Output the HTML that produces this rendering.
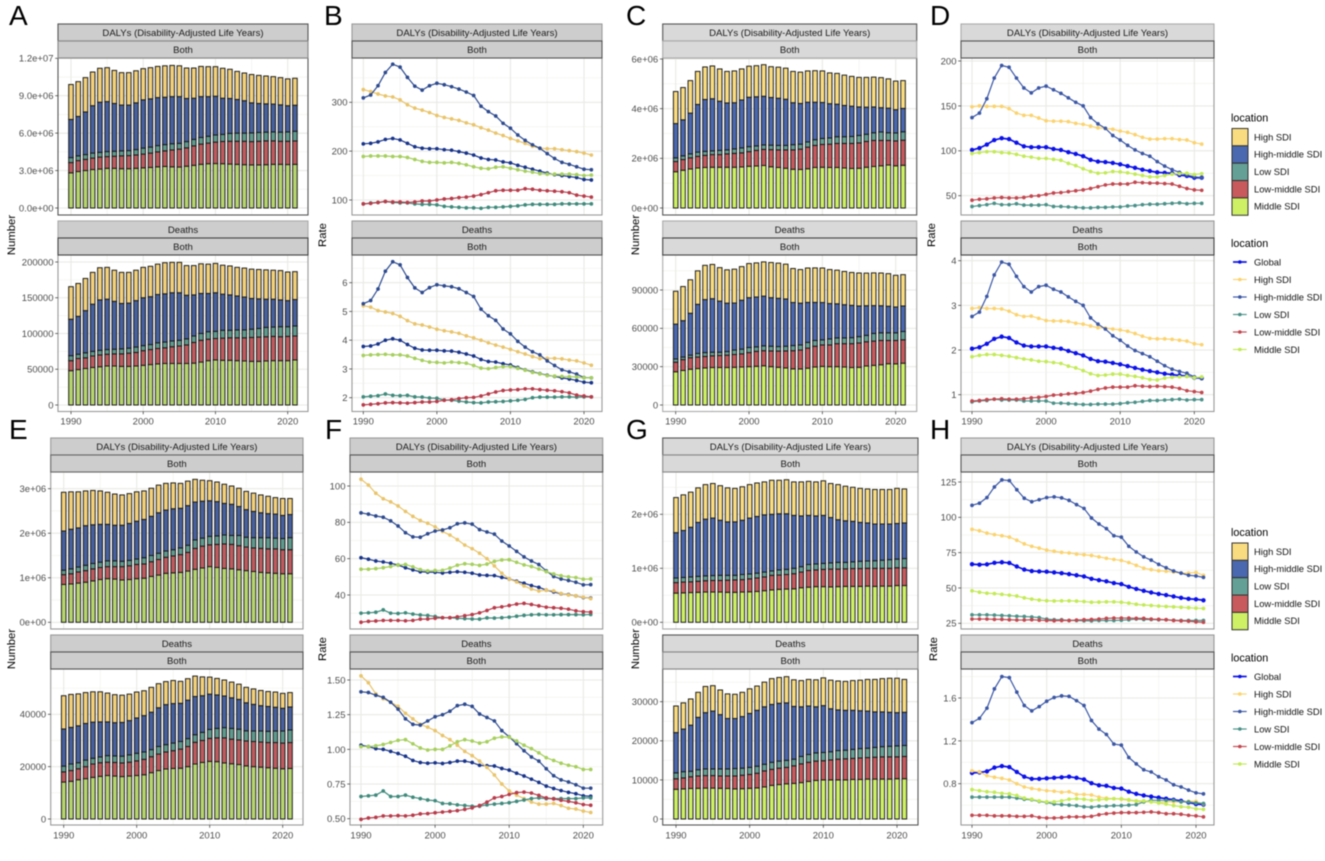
<!DOCTYPE html>
<html lang="en">
<head>
<meta charset="utf-8">
<title>Burden of disease by SDI region, 1990-2021</title>
<style>
html,body{margin:0;padding:0;background:#fff;}
#figure{display:block;width:1325px;height:861px;font-family:"Liberation Sans",sans-serif;filter:blur(0.45px);}
</style>
</head>
<body>
<svg id="figure" xmlns="http://www.w3.org/2000/svg" width="1325" height="861" viewBox="0 0 1325 861"></svg>
<script>
const years=[1990,1991,1992,1993,1994,1995,1996,1997,1998,1999,2000,2001,2002,2003,2004,2005,2006,2007,2008,2009,2010,2011,2012,2013,2014,2015,2016,2017,2018,2019,2020,2021];
const xTickYears=[1990,2000,2010,2020];
const barLocations=['High SDI','High-middle SDI','Low SDI','Low-middle SDI','Middle SDI'];
const lineLocations=['Global','High SDI','High-middle SDI','Low SDI','Low-middle SDI','Middle SDI'];

/* Panel A: stacked tops. DALYs in millions, deaths in thousands. */
const A_D_ticks=[0,3,6,9,12];
const A_D_labels=['0.0e+00','3.0e+06','6.0e+06','9.0e+06','1.2e+07'];
const A_D_mid=[2.82,2.92,3.0,3.08,3.12,3.18,3.18,3.15,3.15,3.18,3.22,3.25,3.3,3.33,3.3,3.28,3.35,3.42,3.5,3.55,3.56,3.55,3.52,3.5,3.47,3.45,3.45,3.47,3.5,3.5,3.48,3.5];
const A_D_lm=[3.64,3.8,3.9,4.0,4.08,4.12,4.15,4.18,4.2,4.25,4.32,4.4,4.5,4.58,4.65,4.72,4.82,4.98,5.12,5.2,5.28,5.33,5.35,5.35,5.35,5.32,5.35,5.38,5.38,5.35,5.35,5.37];
const A_D_low=[4.04,4.18,4.28,4.4,4.46,4.52,4.55,4.58,4.6,4.68,4.8,4.88,5.0,5.08,5.15,5.18,5.32,5.5,5.65,5.75,5.85,5.9,5.98,6.0,6.0,6.02,6.05,6.08,6.1,6.08,6.1,6.15];
const A_D_hm=[7.1,7.34,7.7,8.2,8.48,8.53,8.38,8.25,8.25,8.43,8.67,8.75,8.85,8.88,8.93,8.93,8.78,8.8,8.93,8.93,8.96,8.8,8.78,8.7,8.6,8.43,8.38,8.35,8.33,8.27,8.2,8.24];
const A_D_high=[9.9,10.13,10.45,10.9,11.2,11.25,11.03,10.85,10.85,11.0,11.17,11.25,11.35,11.4,11.43,11.4,11.22,11.22,11.35,11.33,11.33,11.2,11.12,10.95,10.82,10.7,10.63,10.58,10.53,10.45,10.35,10.4];
const A_L_ticks=[0,50,100,150,200];
const A_L_labels=['0','50000','100000','150000','200000'];
const A_L_mid=[48,49.5,51,52.5,53.5,54.5,54.5,54,54,54.5,55.5,56.5,57.5,58,58,58,58,58.5,60,62,63,62.5,62.5,62,61.5,61,61,61.5,62,62,62,63];
const A_L_lm=[62,65,66,68.5,70,71,71.5,71.5,72.5,73.5,76,77.5,79,80,81.5,82.5,84,87.5,90.5,92,93,93.5,94,94,94,94.5,95,95.5,96,95.5,96,96.5];
const A_L_low=[69,71,73,75,76.5,77.5,78,78.5,79.5,81,83,84.5,87,88,89.5,90.5,92.5,96.5,100,102.5,103,104.5,104.5,105,105,106,107,108.5,109,109.5,109.5,110.5];
const A_L_hm=[120,124,132,141,147,148,145,142,142.5,146,150,151.5,154.5,155.5,157,157,153.5,154,156,156,157,155,154,152.5,151,149,148.5,148,148,147,146,147.5];
const A_L_high=[165.5,170,177,185.5,192,192.5,188.5,185.5,185.5,188.5,192.5,194,197,199,199.5,199.5,195,195,197.5,197,198,195.5,194.5,192.5,191.5,190,189.5,189,188.5,188,186,186.5];

/* Panel B */
const B_D_ticks=[100,200,300];
const B_D_labels=['100','200','300'];
const B_D_global=[215,216,219,224,226,223,216,209,206,205,205,203,202,199,196,192,186,183,182,178,176,171,167,163,159,155,152,150,148,146,142,141];
const B_D_high=[326,322,317,313,311,305,295,288,284,279,273,269,266,263,258,254,248,243,237,232,226,221,216,210,206,205,205,203,201,199,196,192];
const B_D_hm=[309,315,334,361,378,372,351,333,325,334,339,336,332,327,321,314,292,281,272,257,247,233,222,213,206,195,185,177,173,168,163,162];
const B_D_low=[92,94,95,97,95,94,94,92,91,91,90,87,86,85,84,84,83,85,85,86,87,88,90,91,91,91,91,92,92,92,92,92];
const B_D_lm=[92,93,95,97,96,96,95,96,98,98,100,102,103,105,106,108,111,115,119,120,120,120,123,122,120,119,118,117,115,110,108,106];
const B_D_mid=[189,190,190,190,189,189,187,183,179,177,177,176,177,175,172,168,165,164,167,168,165,162,159,157,154,153,153,153,153,152,150,151];
const B_L_ticks=[2,3,4,5,6];
const B_L_labels=['2','3','4','5','6'];
const B_L_global=[3.78,3.8,3.87,4.0,4.05,4.0,3.85,3.72,3.66,3.65,3.65,3.63,3.62,3.58,3.52,3.45,3.33,3.26,3.24,3.18,3.14,3.05,2.97,2.9,2.84,2.78,2.74,2.69,2.65,2.6,2.54,2.52];
const B_L_high=[5.2,5.15,5.03,4.98,4.93,4.83,4.68,4.57,4.53,4.46,4.38,4.33,4.29,4.24,4.15,4.08,4.0,3.91,3.83,3.76,3.68,3.6,3.52,3.43,3.36,3.37,3.37,3.35,3.31,3.28,3.21,3.13];
const B_L_hm=[5.27,5.38,5.78,6.4,6.73,6.62,6.18,5.82,5.66,5.83,5.93,5.89,5.86,5.79,5.66,5.52,5.08,4.85,4.69,4.39,4.22,3.96,3.76,3.6,3.49,3.28,3.12,2.97,2.9,2.82,2.7,2.69];
const B_L_low=[2.03,2.05,2.07,2.13,2.08,2.07,2.08,2.03,2.02,1.99,1.98,1.92,1.91,1.88,1.85,1.83,1.82,1.85,1.86,1.87,1.89,1.91,1.94,2.0,2.02,2.02,2.02,2.03,2.03,2.02,2.03,2.03];
const B_L_lm=[1.75,1.77,1.79,1.82,1.83,1.82,1.81,1.83,1.85,1.85,1.87,1.91,1.93,1.97,2.0,2.01,2.06,2.13,2.2,2.25,2.27,2.28,2.31,2.31,2.28,2.26,2.24,2.21,2.17,2.09,2.06,2.03];
const B_L_mid=[3.47,3.49,3.5,3.51,3.49,3.49,3.45,3.37,3.3,3.24,3.23,3.21,3.24,3.22,3.2,3.12,3.03,3.01,3.05,3.08,3.08,3.02,2.96,2.88,2.83,2.77,2.75,2.74,2.73,2.72,2.69,2.69];

/* Panel C */
const C_D_ticks=[0,2,4,6];
const C_D_labels=['0e+00','2e+06','4e+06','6e+06'];
const C_D_mid=[1.46,1.52,1.57,1.61,1.63,1.64,1.64,1.64,1.64,1.65,1.68,1.69,1.71,1.66,1.63,1.6,1.56,1.55,1.58,1.63,1.64,1.63,1.63,1.61,1.59,1.6,1.64,1.67,1.7,1.73,1.7,1.72];
const C_D_lm=[1.87,1.95,2.02,2.08,2.12,2.15,2.15,2.18,2.2,2.22,2.27,2.32,2.36,2.35,2.34,2.34,2.34,2.37,2.45,2.52,2.56,2.57,2.6,2.6,2.6,2.62,2.68,2.72,2.72,2.72,2.7,2.73];
const C_D_low=[2.02,2.1,2.18,2.25,2.28,2.3,2.32,2.34,2.38,2.42,2.47,2.5,2.54,2.53,2.52,2.52,2.55,2.57,2.66,2.75,2.8,2.82,2.87,2.87,2.88,2.92,2.97,3.03,3.06,3.03,3.02,3.07];
const C_D_hm=[3.4,3.55,3.82,4.17,4.37,4.4,4.3,4.23,4.24,4.35,4.46,4.48,4.5,4.45,4.42,4.38,4.24,4.21,4.26,4.26,4.25,4.2,4.18,4.13,4.1,4.07,4.06,4.07,4.04,4.02,3.96,4.01];
const C_D_high=[4.69,4.85,5.13,5.5,5.68,5.72,5.6,5.5,5.52,5.6,5.71,5.73,5.77,5.69,5.67,5.63,5.5,5.47,5.52,5.53,5.52,5.44,5.42,5.35,5.3,5.26,5.26,5.27,5.25,5.2,5.11,5.13];
const C_L_ticks=[0,30,60,90];
const C_L_labels=['0','30000','60000','90000'];
const C_L_mid=[26,27,28,28.5,29,29.3,29.3,29.3,29.5,29.7,30,30.3,30.7,30,29.5,29,28.3,28.2,28.8,29.7,30.2,30,30,29.7,29.3,29.5,30.5,31,31.5,32.3,32.2,32.7];
const C_L_lm=[33.5,35.5,37,37.5,38,38.5,38.7,39,39.5,40,41,42,42.5,42.3,42.2,42.3,42.5,43,44.5,46,47,47,48,48,48,48.5,49.5,50,50.5,50.5,50.5,51];
const C_L_low=[36,37.5,39,40.3,41,41.3,41.3,41.8,43,43.7,45,45.5,46.3,46,45.7,46,46.5,47,49,50.5,51,51.7,52.5,52.5,52.7,53.5,54.5,56,56.5,56.5,56.5,57.5];
const C_L_hm=[63.3,66,71.8,78.8,82.5,83.2,81.3,79.7,79.8,82,84,84.5,85.2,84,83.5,83,80.2,79.7,80.3,80.3,80.2,79.4,79.2,78.5,78,77.5,77.7,77.8,77.7,77.3,76.7,77.5];
const C_L_high=[89,92.7,98,105,109.3,110,107.5,105.8,106.3,108.3,110.7,111.2,112,111.5,111,110.2,106.8,106,107.2,107.3,107.2,106,105.5,104.5,103.7,103.3,103.2,103.4,103.3,102.8,101.5,102];

/* Panel D */
const D_D_ticks=[50,100,150,200];
const D_D_labels=['50','100','150','200'];
const D_D_global=[101,103,107,112,114,113,109,105,104,104,104,102,101,98.5,96.5,94,90,88,87.5,86.5,85,83,81,79,77.5,76,75.5,75,73,72,70,70];
const D_D_high=[149,150,149.5,149.5,149.5,147,142,139.5,139.5,136.5,133.5,133,133,132.5,130.5,129.5,127.5,125.5,125,124,122,120.5,118,115,113,113,113.5,113.5,112.5,112,109,107.5];
const D_D_hm=[137,142,158,181,195,193,181,170,164.5,170,172,168,164,159,154,150,137,130,125,117,112,106,101,97,94,88,83,79,76,73,71,70];
const D_D_low=[38,39,40,41.5,40,40,41,39.5,39.5,39.5,40,38,38,37.5,37,36.5,36.5,37,37,37.5,37.5,38.5,39,40,40.5,40.5,41,41.5,42,41,41.5,41.5];
const D_D_lm=[45,46,46.5,47.5,48,47.5,47.5,48,49.5,50,51.5,53,53.5,54.5,55.5,56.5,58,60,62,63,63,63,65,64.5,64,64,63.5,63,60.5,58,56.5,56];
const D_D_mid=[97,98,99,99,98,97.5,96,94,93,91.5,91.5,90.5,89.5,86,83.5,80,77,75,75.5,77,76.5,75.5,74,72.5,71,71,72.5,74,74.5,75,73.5,74.5];
const D_L_ticks=[1,2,3,4];
const D_L_labels=['1','2','3','4'];
const D_L_global=[2.03,2.06,2.14,2.25,2.3,2.27,2.17,2.1,2.08,2.08,2.08,2.05,2.03,1.98,1.93,1.88,1.8,1.75,1.74,1.71,1.68,1.64,1.6,1.56,1.53,1.5,1.47,1.45,1.43,1.42,1.38,1.37];
const D_L_high=[2.93,2.95,2.93,2.93,2.92,2.87,2.79,2.75,2.76,2.71,2.66,2.65,2.65,2.64,2.6,2.58,2.54,2.5,2.49,2.47,2.45,2.42,2.37,2.31,2.26,2.25,2.25,2.24,2.22,2.2,2.14,2.12];
const D_L_hm=[2.75,2.85,3.2,3.68,3.97,3.92,3.65,3.42,3.3,3.42,3.45,3.36,3.3,3.19,3.09,3.0,2.72,2.58,2.47,2.32,2.22,2.09,1.99,1.92,1.85,1.75,1.65,1.57,1.52,1.48,1.4,1.36];
const D_L_low=[0.84,0.86,0.87,0.9,0.88,0.88,0.88,0.86,0.86,0.86,0.86,0.81,0.81,0.8,0.79,0.78,0.78,0.79,0.79,0.79,0.8,0.82,0.83,0.85,0.87,0.87,0.88,0.89,0.9,0.88,0.89,0.89];
const D_L_lm=[0.86,0.87,0.89,0.9,0.91,0.9,0.9,0.91,0.93,0.94,0.96,0.99,1.0,1.02,1.03,1.05,1.08,1.12,1.15,1.17,1.17,1.17,1.2,1.19,1.18,1.19,1.18,1.17,1.14,1.09,1.07,1.05];
const D_L_mid=[1.85,1.88,1.9,1.9,1.88,1.86,1.83,1.8,1.78,1.75,1.74,1.72,1.7,1.64,1.6,1.54,1.47,1.43,1.44,1.46,1.46,1.43,1.41,1.38,1.34,1.33,1.37,1.39,1.4,1.41,1.38,1.4];

/* Panel E */
const E_D_ticks=[0,1,2,3];
const E_D_labels=['0e+00','1e+06','2e+06','3e+06'];
const E_D_mid=[0.85,0.86,0.88,0.9,0.93,0.96,0.98,0.97,0.95,0.96,0.98,0.99,1.03,1.06,1.1,1.11,1.12,1.15,1.19,1.22,1.25,1.23,1.21,1.2,1.18,1.16,1.14,1.12,1.11,1.1,1.09,1.09];
const E_D_lm=[1.07,1.09,1.13,1.16,1.2,1.23,1.25,1.25,1.25,1.27,1.3,1.31,1.36,1.41,1.46,1.49,1.52,1.57,1.66,1.71,1.74,1.75,1.76,1.75,1.72,1.69,1.67,1.66,1.65,1.65,1.63,1.63];
const E_D_low=[1.17,1.2,1.24,1.28,1.32,1.35,1.38,1.38,1.37,1.39,1.42,1.45,1.5,1.55,1.6,1.63,1.67,1.73,1.85,1.89,1.93,1.94,1.96,1.95,1.95,1.91,1.9,1.9,1.9,1.89,1.88,1.9];
const E_D_hm=[2.05,2.09,2.12,2.17,2.19,2.2,2.2,2.18,2.18,2.22,2.27,2.31,2.38,2.46,2.52,2.55,2.56,2.62,2.7,2.72,2.73,2.71,2.67,2.65,2.6,2.53,2.49,2.46,2.44,2.43,2.4,2.42];
const E_D_high=[2.92,2.93,2.93,2.95,2.96,2.95,2.92,2.88,2.86,2.89,2.93,2.95,3.01,3.08,3.12,3.13,3.12,3.17,3.21,3.19,3.18,3.15,3.1,3.06,3.01,2.94,2.9,2.86,2.83,2.8,2.78,2.78];
const E_L_ticks=[0,20,40];
const E_L_labels=['0','20000','40000'];
const E_L_mid=[14.1,14.4,15,15.4,15.9,16.3,16.6,16.4,16.2,16.4,16.6,16.9,17.7,18.5,19.1,19.3,19.4,20,21,21.6,22,21.9,21.4,21.1,20.8,20.3,20,19.8,19.6,19.4,19.2,19.3];
const E_L_lm=[18,18.5,19.2,20,21,21.5,21.7,21.6,21.4,21.7,22.2,22.8,23.8,24.8,25.6,26.1,26.7,27.7,29.3,30,30.8,31,31,30.5,30.2,29.8,29.6,29.4,29.2,29.2,29,29.2];
const E_L_low=[20.2,21,21.5,22.5,23.2,23.7,24.2,24.1,24,24.5,25.1,25.6,26.5,27.7,28.4,29,29.6,30.7,32.2,33.1,34.2,34.6,34.9,34.6,34.3,33.7,33.6,33.6,33.5,33.6,33.6,34];
const E_L_hm=[34.4,35,35.6,36.5,37,37.1,37.1,36.8,36.9,37.6,38.6,39.5,40.8,42.5,43.7,44.1,44.2,45.4,46.8,47.1,47.7,47.4,47,46.3,45.7,44.4,43.8,43.3,43,42.7,42.3,42.8];
const E_L_high=[47.1,47.6,47.8,48.3,48.6,48.6,48.1,47.5,47.3,47.7,48.5,49,50.3,51.7,52.5,52.9,52.6,53.6,54.6,54.3,54.2,53.7,53.1,52.3,51.5,50.3,49.7,49.1,48.7,48.5,48,48.3];

/* Panel F */
const F_D_ticks=[40,60,80,100];
const F_D_labels=['40','60','80','100'];
const F_D_global=[60.5,59.7,58.7,58.2,57.5,56.5,55,53.8,52.8,52.6,52.5,52.1,52.5,52.8,52.5,52,51,50.8,50.7,49.7,48.8,47.6,46.5,45.2,44.2,42.7,41.7,40.7,40.2,39.5,38.6,38.3];
const F_D_high=[103.7,100.5,96,93,91.3,89,86,83.3,81,79.5,77.5,75,73,70.5,67.5,65.5,63,60,56,52,48.8,47.2,45,43.3,42.2,42.7,42.3,40.8,40,39.5,38.8,38];
const F_D_hm=[85.2,84.5,83.5,82.8,80.8,78,74.3,72,71.8,73.7,75.2,75.8,77,79.2,79.7,79,76,74.7,73.5,69.7,67,64,61,58.7,56.8,53.3,50.2,48.8,48,47,45.6,45.7];
const F_D_low=[30,30.2,30.5,31.8,30,29.8,30.2,29.5,29,28.7,28.2,27.5,27.5,27.2,27,26.8,26.7,27.4,27.3,27.5,27.8,28.3,28.8,29.1,29.3,29.1,29.1,29.2,29.2,29.2,29.1,29.3];
const F_D_lm=[25,25.5,25.7,26,26,26,25.8,26,26.7,26.8,27.2,27.5,27.5,28,28.6,29.2,30.2,31.5,33,33.5,34.2,35,35.4,34.8,34,33.3,33,32.7,32.2,31.3,30.8,30.6];
const F_D_mid=[54.2,54.2,54.5,55,55.7,56.5,56.8,55.5,54,53.3,53.5,53.6,54.8,56.4,57.2,56.9,56.3,57,58.5,59.3,59.4,58,56.6,55.7,54.3,52.9,51.6,50.6,50,49.6,48.7,48.8];
const F_L_ticks=[0.5,0.75,1,1.25,1.5];
const F_L_labels=['0.50','0.75','1.00','1.25','1.50'];
const F_L_global=[1.03,1.02,1.005,1.0,0.985,0.97,0.95,0.92,0.905,0.9,0.903,0.898,0.905,0.915,0.915,0.905,0.885,0.882,0.88,0.862,0.85,0.828,0.808,0.785,0.762,0.735,0.718,0.703,0.69,0.68,0.665,0.662];
const F_L_high=[1.53,1.48,1.4,1.365,1.34,1.31,1.26,1.22,1.18,1.16,1.135,1.1,1.07,1.03,0.985,0.955,0.915,0.87,0.815,0.75,0.7,0.67,0.645,0.62,0.605,0.605,0.61,0.595,0.575,0.57,0.555,0.545];
const F_L_hm=[1.415,1.41,1.39,1.375,1.34,1.29,1.22,1.18,1.175,1.205,1.235,1.25,1.275,1.315,1.325,1.31,1.255,1.23,1.205,1.135,1.09,1.04,0.99,0.945,0.915,0.86,0.81,0.78,0.765,0.745,0.72,0.72];
const F_L_low=[0.66,0.665,0.67,0.7,0.66,0.66,0.67,0.655,0.645,0.635,0.63,0.61,0.608,0.6,0.595,0.59,0.59,0.6,0.605,0.61,0.615,0.625,0.635,0.645,0.65,0.645,0.645,0.645,0.645,0.645,0.65,0.65];
const F_L_lm=[0.495,0.505,0.51,0.52,0.52,0.522,0.52,0.525,0.535,0.537,0.543,0.548,0.553,0.558,0.567,0.578,0.595,0.62,0.65,0.66,0.675,0.688,0.692,0.685,0.668,0.65,0.643,0.633,0.625,0.615,0.602,0.597];
const F_L_mid=[1.02,1.02,1.025,1.035,1.05,1.065,1.07,1.04,1.01,0.995,1.0,1.0,1.025,1.055,1.07,1.06,1.045,1.055,1.08,1.09,1.088,1.06,1.03,1.005,0.975,0.94,0.92,0.9,0.885,0.875,0.855,0.855];

/* Panel G */
const G_D_ticks=[0,1,2];
const G_D_labels=['0e+00','1e+06','2e+06'];
const G_D_mid=[0.54,0.545,0.55,0.555,0.56,0.56,0.56,0.555,0.555,0.56,0.565,0.57,0.585,0.6,0.61,0.615,0.62,0.64,0.65,0.66,0.66,0.655,0.66,0.665,0.665,0.665,0.67,0.665,0.67,0.67,0.68,0.68];
const G_D_lm=[0.735,0.745,0.75,0.76,0.77,0.775,0.775,0.78,0.785,0.79,0.805,0.82,0.84,0.87,0.875,0.885,0.9,0.93,0.96,0.97,0.98,0.985,0.985,0.99,0.995,0.995,1.0,1.0,1.0,1.0,1.01,1.01];
const G_D_low=[0.82,0.83,0.84,0.85,0.86,0.865,0.87,0.87,0.87,0.885,0.895,0.91,0.93,0.95,0.97,0.98,1.0,1.03,1.07,1.08,1.09,1.1,1.11,1.11,1.12,1.13,1.135,1.14,1.15,1.16,1.17,1.18];
const G_D_hm=[1.66,1.7,1.76,1.85,1.91,1.93,1.89,1.86,1.86,1.89,1.93,1.96,1.99,2.0,2.01,2.01,1.98,1.97,1.98,1.97,1.98,1.94,1.9,1.88,1.87,1.85,1.84,1.82,1.82,1.82,1.83,1.84];
const G_D_high=[2.31,2.36,2.41,2.49,2.55,2.57,2.53,2.49,2.48,2.51,2.55,2.58,2.6,2.63,2.63,2.64,2.6,2.6,2.61,2.6,2.62,2.57,2.55,2.52,2.5,2.48,2.47,2.46,2.46,2.46,2.48,2.47];
const G_L_ticks=[0,10,20,30];
const G_L_labels=['0','10000','20000','30000'];
const G_L_mid=[7.6,7.7,7.8,7.85,7.9,7.9,7.85,7.8,7.7,7.75,7.85,7.95,8.2,8.6,8.8,9.0,9.1,9.3,9.6,9.85,10,10,10,10,10.1,10.1,10.2,10.2,10.2,10.2,10.3,10.3];
const G_L_lm=[10.3,10.5,10.8,11,11.1,11.1,11,11,11,11.2,11.4,11.7,12.3,12.7,13,13.2,13.6,14.1,14.5,14.8,14.9,15.1,15.3,15.4,15.5,15.6,15.7,15.8,15.9,15.9,15.9,16];
const G_L_low=[11.8,12.1,12.2,12.6,12.8,12.8,12.8,12.8,12.9,13,13.2,13.5,14,14.5,14.8,15,15.3,16,16.5,16.9,17,17.2,17.5,17.6,17.8,18,18.1,18.3,18.5,18.6,18.7,18.8];
const G_L_hm=[22.1,23,24,26,27.2,27.6,26.7,25.7,25.7,26.2,27,27.8,28.7,29.3,29.6,29.7,28.8,28.7,28.9,28.7,29,28.2,27.9,27.8,27.8,27.7,27.6,27.4,27.4,27.3,27.2,27.3];
const G_L_high=[28.9,29.7,30.7,32.4,33.9,34.1,33,32,31.9,32.4,33.3,34,35,35.9,36.2,36.4,35.6,35.4,35.7,35.6,36.1,35.5,35.3,35.2,35.4,35.5,35.7,35.7,35.9,36,36,35.7];

/* Panel H */
const H_D_ticks=[25,50,75,100,125];
const H_D_labels=['25','50','75','100','125'];
const H_D_global=[66.8,66.5,66.7,67.8,68.2,67.7,65.2,63,62,61.7,61.5,61,60.5,59.8,59,58.2,56.5,55.5,54.7,53.5,52.8,50.8,49.3,48,46.8,45.8,45,44,43,42.3,42,41.3];
const H_D_high=[91.5,90.5,88.8,87.8,87,86,83.8,81.2,79.5,78.2,76.8,76,75.2,74.8,74,73.5,73,72,71,70.2,69.5,68,66,64,63,62.2,61.8,61.3,60.5,60.5,61,59];
const H_D_hm=[108.5,110,114,121.5,126.5,126,119.5,113.5,111,112.5,114,114.5,113.8,112,109,106.3,99.5,95.3,92,87,86,79.5,75.5,72,69.7,66.7,64.3,62,60.5,59,58.5,57.5];
const H_D_low=[31,31,31,30.8,30.5,30.3,30,29.8,29.5,29,28,27.5,27.5,27,27,26.8,26.7,27,27,27,27.2,27.5,28,27.7,27.7,27.5,27.5,27.2,27,27,27,27];
const H_D_lm=[28,28,28,27.8,27.8,27.5,27.3,27.3,27.5,27.2,27,26.8,27,27,27.3,27.5,27.7,28,28.5,28.7,28.7,28.7,28.5,28.5,28,27.8,27.5,27,26.7,26.5,26,25.7];
const H_D_mid=[48,47,46.3,46,45.5,44.9,44.3,43,42.1,41.4,41,40.8,40.9,40.9,40.7,40.4,39.9,40,40.2,40.2,39.9,39.3,38.5,38,37.6,37.2,36.9,36.6,36.3,36,35.7,35.5];
const H_L_ticks=[0.8,1.2,1.6];
const H_L_labels=['0.8','1.2','1.6'];
const H_L_global=[0.9,0.905,0.915,0.95,0.965,0.955,0.91,0.865,0.845,0.845,0.85,0.855,0.86,0.865,0.855,0.84,0.805,0.785,0.78,0.76,0.755,0.725,0.705,0.69,0.68,0.67,0.66,0.65,0.64,0.625,0.61,0.605];
const H_L_high=[0.92,0.91,0.875,0.86,0.85,0.835,0.8,0.77,0.755,0.745,0.735,0.73,0.72,0.725,0.7,0.7,0.695,0.675,0.665,0.66,0.655,0.645,0.635,0.63,0.63,0.625,0.63,0.63,0.63,0.635,0.635,0.61];
const H_L_hm=[1.37,1.41,1.505,1.685,1.8,1.79,1.655,1.53,1.48,1.52,1.57,1.605,1.62,1.615,1.575,1.53,1.39,1.31,1.26,1.17,1.16,1.045,0.985,0.93,0.91,0.865,0.835,0.79,0.77,0.74,0.715,0.705];
const H_L_low=[0.675,0.675,0.675,0.675,0.675,0.675,0.665,0.655,0.65,0.635,0.625,0.61,0.605,0.6,0.595,0.585,0.58,0.59,0.59,0.595,0.595,0.6,0.605,0.63,0.645,0.645,0.645,0.645,0.63,0.63,0.62,0.615];
const H_L_lm=[0.505,0.505,0.505,0.5,0.5,0.5,0.495,0.495,0.5,0.485,0.48,0.48,0.483,0.49,0.49,0.49,0.495,0.51,0.52,0.525,0.53,0.53,0.53,0.533,0.537,0.53,0.52,0.52,0.515,0.505,0.5,0.49];
const H_L_mid=[0.745,0.735,0.725,0.72,0.71,0.705,0.69,0.665,0.655,0.64,0.63,0.63,0.64,0.655,0.66,0.655,0.645,0.65,0.655,0.66,0.66,0.65,0.64,0.64,0.63,0.62,0.61,0.595,0.585,0.58,0.565,0.56];

/* Colours */
const mutedBars={mid:'#b6d56e',lm:'#bf5b5e',low:'#5f9a8e',hm:'#47619f',high:'#f3d07a'};
const brightBars={mid:'#cdf064',lm:'#c85a5e',low:'#65a096',hm:'#4a68b0',high:'#fadc80'};
const mutedLines={global:'#17338a',high:'#e9c46a',hm:'#2d4a8f',low:'#3f8a7c',lm:'#b83b4a',mid:'#a6cf5c'};
const brightLines={global:'#0a10e8',high:'#fbd36e',hm:'#3a56a5',low:'#4a9188',lm:'#c2474f',mid:'#c3ea55'};

/* Layout of the 2x4 grid */
const rows={
  top:{s1:24,s2:41,p1:58,p1b:215,s3:221,s4:238,p2:255,p2b:411.5,xl:424.5},
  bottom:{s1:438,s2:455,p1:472,p1b:629,s3:635,s4:652,p2:669,p2b:825,xl:838.5}
};
const panels=[
 {id:'A',kind:'bar',row:'top',l:58,r:308,x1990:71,x2020:287.7,ylab:'Number',yx:12,lx:9,strip:'#cdcdcd',c:mutedBars,
  D:{t:A_D_ticks,lab:A_D_labels,v0:0,y0:208,v1:12,y1:58.3,mid:A_D_mid,lm:A_D_lm,low:A_D_low,hm:A_D_hm,high:A_D_high},
  L:{t:A_L_ticks,lab:A_L_labels,v0:0,y0:405,v1:200,y1:262,mid:A_L_mid,lm:A_L_lm,low:A_L_low,hm:A_L_hm,high:A_L_high},
  b:['#555','#888','#555','#aaa','#444','#999']},
 {id:'B',kind:'line',row:'top',l:352,r:602,x1990:363.3,x2020:584,ylab:'Rate',yx:323,lx:324,strip:'#cdcdcd',c:mutedLines,
  D:{t:B_D_ticks,lab:B_D_labels,v0:100,y0:200,v1:300,y1:102.3,global:B_D_global,high:B_D_high,hm:B_D_hm,low:B_D_low,lm:B_D_lm,mid:B_D_mid},
  L:{t:B_L_ticks,lab:B_L_labels,v0:2,y0:397.7,v1:6,y1:282.7,global:B_L_global,high:B_L_high,hm:B_L_hm,low:B_L_low,lm:B_L_lm,mid:B_L_mid},
  b:['#999','#555','#999','#999','#555','#999']},
 {id:'C',kind:'bar',row:'top',l:662.7,r:916.7,x1990:675.7,x2020:895.7,ylab:'Number',yx:636,lx:626,strip:'#d9d9d9',c:brightBars,
  D:{t:C_D_ticks,lab:C_D_labels,v0:0,y0:208,v1:6,y1:59,mid:C_D_mid,lm:C_D_lm,low:C_D_low,hm:C_D_hm,high:C_D_high},
  L:{t:C_L_ticks,lab:C_L_labels,v0:0,y0:405,v1:90,y1:290,mid:C_L_mid,lm:C_L_lm,low:C_L_low,hm:C_L_hm,high:C_L_high},
  b:['#555','#aaa','#555','#aaa','#444','#aaa']},
 {id:'D',kind:'line',row:'top',l:961,r:1214,x1990:972,x2020:1194.3,ylab:'Rate',yx:932,lx:930,strip:'#d9d9d9',c:brightLines,
  D:{t:D_D_ticks,lab:D_D_labels,v0:50,y0:195.7,v1:200,y1:61,global:D_D_global,high:D_D_high,hm:D_D_hm,low:D_D_low,lm:D_D_lm,mid:D_D_mid},
  L:{t:D_L_ticks,lab:D_L_labels,v0:1,y0:394.7,v1:4,y1:260.7,global:D_L_global,high:D_L_high,hm:D_L_hm,low:D_L_low,lm:D_L_lm,mid:D_L_mid},
  b:['#aaa','#555','#999','#999','#444','#999']},
 {id:'E',kind:'bar',row:'bottom',l:50.7,r:303,x1990:63.7,x2020:282.7,ylab:'Number',yx:12,lx:9,strip:'#cdcdcd',c:mutedBars,
  D:{t:E_D_ticks,lab:E_D_labels,v0:0,y0:622.3,v1:3,y1:488.7,mid:E_D_mid,lm:E_D_lm,low:E_D_low,hm:E_D_hm,high:E_D_high},
  L:{t:E_L_ticks,lab:E_L_labels,v0:0,y0:819,v1:40,y1:714.3,mid:E_L_mid,lm:E_L_lm,low:E_L_low,hm:E_L_hm,high:E_L_high},
  b:['#999','#666','#999','#999','#555','#999']},
 {id:'F',kind:'line',row:'bottom',l:350,r:602.7,x1990:361,x2020:583.3,ylab:'Rate',yx:323,lx:325,strip:'#cdcdcd',c:mutedLines,
  D:{t:F_D_ticks,lab:F_D_labels,v0:40,y0:595,v1:100,y1:486,global:F_D_global,high:F_D_high,hm:F_D_hm,low:F_D_low,lm:F_D_lm,mid:F_D_mid},
  L:{t:F_L_ticks,lab:F_L_labels,v0:0.5,y0:818.7,v1:1.5,y1:680,global:F_L_global,high:F_L_high,hm:F_L_hm,low:F_L_low,lm:F_L_lm,mid:F_L_mid},
  b:['#999','#555','#999','#999','#555','#999']},
 {id:'G',kind:'bar',row:'bottom',l:662.7,r:918,x1990:676,x2020:897,ylab:'Number',yx:636,lx:626,strip:'#d9d9d9',c:brightBars,
  D:{t:G_D_ticks,lab:G_D_labels,v0:0,y0:622.3,v1:2,y1:514.3,mid:G_D_mid,lm:G_D_lm,low:G_D_low,hm:G_D_hm,high:G_D_high},
  L:{t:G_L_ticks,lab:G_L_labels,v0:0,y0:819,v1:30,y1:701.7,mid:G_L_mid,lm:G_L_lm,low:G_L_low,hm:G_L_hm,high:G_L_high},
  b:['#555','#888','#aaa','#555','#888','#555']},
 {id:'H',kind:'line',row:'bottom',l:961,r:1214,x1990:972,x2020:1196,ylab:'Rate',yx:934,lx:930,strip:'#d9d9d9',c:brightLines,
  D:{t:H_D_ticks,lab:H_D_labels,v0:25,y0:623.3,v1:125,y1:482,global:H_D_global,high:H_D_high,hm:H_D_hm,low:H_D_low,lm:H_D_lm,mid:H_D_mid},
  L:{t:H_L_ticks,lab:H_L_labels,v0:0.8,y0:783.7,v1:1.6,y1:698,global:H_L_global,high:H_L_high,hm:H_L_hm,low:H_L_low,lm:H_L_lm,mid:H_L_mid},
  b:['#999','#555','#999','#999','#555','#999']}
];

const NS='http://www.w3.org/2000/svg';
const root=document.getElementById('figure');
function mk(tag,attrs,parent){
  const el=document.createElementNS(NS,tag);
  for(const k in attrs){el.setAttribute(k,attrs[k]);}
  (parent||root).appendChild(el);
  return el;
}
function txt(str,attrs,parent){
  const el=mk('text',attrs,parent);
  el.textContent=str;
  return el;
}
function xAxis(p){const k=(p.x2020-p.x1990)/30;return yr=>p.x1990+(yr-1990)*k;}
function yAxis(s){const k=(s.y1-s.y0)/(s.v1-s.v0);return v=>s.y0+(v-s.v0)*k;}

function drawGrid(g,p,s,top,bottom,x,y){
  const step=s.t[1]-s.t[0];
  const minors=s.t.slice(0,-1).map(t=>t+step/2);
  minors.push(s.t[0]-step/2,s.t[s.t.length-1]+step/2);
  minors.forEach(v=>{
    const py=y(v);
    if(py>top&&py<bottom){
      const line=mk('line',{x1:p.l,x2:p.r,y1:py,y2:py,stroke:'#efefec','stroke-width':0.6},g);
      
      
    }
  });
  [1995,2005,2015].forEach(yr=>{
    const line=mk('line',{x1:x(yr),x2:x(yr),y1:top,y2:bottom,stroke:'#efefec','stroke-width':0.6},g);
    
    
  });
  s.t.forEach(v=>{
    const line=mk('line',{x1:p.l,x2:p.r,y1:y(v),y2:y(v),stroke:'#e9e9e6','stroke-width':1.1},g);
    
    
  });
  xTickYears.forEach(yr=>{
    const line=mk('line',{x1:x(yr),x2:x(yr),y1:top,y2:bottom,stroke:'#e9e9e6','stroke-width':1.1},g);
    
    
  });
}
function drawBars(g,p,s,x,y){
  const layers=[['mid','Middle SDI'],['lm','Low-middle SDI'],['low','Low SDI'],['hm','High-middle SDI'],['high','High SDI']];
  let base=years.map(()=>0);
  layers.forEach(layer=>{
    const tops=s[layer[0]];
    const fill=p.c[layer[0]];
    years.forEach((yr,i)=>{
      const yTop=y(tops[i]);
      const yBase=y(base[i]);
      const rect=mk('rect',{x:x(yr)-2.3,y:Math.min(yTop,yBase),width:4.6,height:Math.abs(yBase-yTop),fill:fill,stroke:'#141414','stroke-width':0.95},g);
      
      
    });
    base=tops;
  });
}
function drawLines(g,p,s,x,y){
  const keys=['global','high','hm','low','lm','mid'];
  const bright=p.c===brightLines;
  keys.forEach((key,n)=>{
    const vals=s[key];
    const isGlobalBright=bright&&key==='global';
    const pts=years.map((yr,i)=>x(yr).toFixed(2)+','+y(vals[i]).toFixed(2)).join(' ');
    const line=mk('polyline',{points:pts,fill:'none',stroke:p.c[key],'stroke-width':isGlobalBright?1.7:1.2},g);
    
    
    years.forEach((yr,i)=>{
      const dot=mk('circle',{cx:x(yr),cy:y(vals[i]),r:isGlobalBright?2.2:1.85,fill:p.c[key]},g);
      
      
    });
  });
}
function drawStrip(g,p,top,h,label,fill,border){
  const rect=mk('rect',{x:p.l,y:top,width:p.r-p.l,height:h,fill:fill,stroke:border,'stroke-width':1.1},g);
  
  
  const t=txt(label,{x:(p.l+p.r)/2,y:top+h/2+3.3,'text-anchor':'middle','font-size':9.55,fill:'#1a1a1a'},g);
  
  
}
function drawSub(g,p,s,top,bottom,border,withX,xl){
  const x=xAxis(p);
  const y=yAxis(s);
  drawGrid(g,p,s,top,bottom,x,y);
  if(p.kind==='bar'){drawBars(g,p,s,x,y);}else{drawLines(g,p,s,x,y);}
  const frame=mk('rect',{x:p.l,y:top,width:p.r-p.l,height:bottom-top,fill:'none',stroke:border,'stroke-width':1.1},g);
  
  
  s.t.forEach((v,i)=>{
    const tick=mk('line',{x1:p.l-2.8,x2:p.l,y1:y(v),y2:y(v),stroke:'#333','stroke-width':0.7},g);
    
    
    const lab=txt(s.lab[i],{x:p.l-4.5,y:y(v)+3.4,'text-anchor':'end','font-size':9.5,fill:'#4d4d4d'},g);
    
    
  });
  if(withX){
    xTickYears.forEach(yr=>{
      const tick=mk('line',{x1:x(yr),x2:x(yr),y1:bottom,y2:bottom+2.8,stroke:'#333','stroke-width':0.7},g);
      
      
      const lab=txt(String(yr),{x:x(yr),y:xl,'text-anchor':'middle','font-size':9.5,fill:'#4d4d4d'},g);
      
      
    });
  }
}
panels.forEach(p=>{
  const R=rows[p.row];
  const g=mk('g',{});
  
  
  const letter=txt(p.id,{x:p.lx,y:p.row==='top'?25:439,'font-size':28,fill:'#000'},g);
  
  
  drawSub(g,p,p.D,R.p1,R.p1b,p.b[2],false,0);
  drawStrip(g,p,R.s1,R.s2-R.s1,'DALYs (Disability-Adjusted Life Years)',p.strip,p.b[0]);
  drawStrip(g,p,R.s2,R.p1-R.s2,'Both',p.strip,p.b[1]);
  drawSub(g,p,p.L,R.p2,R.p2b,p.b[5],true,R.xl);
  drawStrip(g,p,R.s3,R.s4-R.s3,'Deaths',p.strip,p.b[3]);
  drawStrip(g,p,R.s4,R.p2-R.s4,'Both',p.strip,p.b[4]);
  const cy=p.row==='top'?235:649;
  const title=txt(p.ylab,{x:p.yx,y:cy,transform:'rotate(-90 '+p.yx+' '+cy+')','text-anchor':'middle','dominant-baseline':'central','font-size':11.3,fill:'#000'},g);
  
  
});

/* Legends */
const legendFills=[brightBars.high,brightBars.hm,brightBars.low,brightBars.lm,brightBars.mid];
const legendLineColors=[brightLines.global,brightLines.high,brightLines.hm,brightLines.low,brightLines.lm,brightLines.mid];
[0,414.5].forEach(dy=>{
  const g1=mk('g',{});
  
  
  const t1=txt('location',{x:1231,y:121.5+dy,'font-size':10.8,fill:'#000'},g1);
  
  
  barLocations.forEach((name,i)=>{
    const key=mk('rect',{x:1232,y:128.5+dy+i*17.35,width:16,height:17.35,fill:legendFills[i],stroke:'#333','stroke-width':1},g1);
    
    
    const lab=txt(name,{x:1254,y:140.3+dy+i*17.35,'font-size':9.4,fill:'#111'},g1);
    
    
  });
  const g2=mk('g',{});
  
  
  const t2=txt('location',{x:1231,y:247+dy,'font-size':10.8,fill:'#000'},g2);
  
  
  lineLocations.forEach((name,i)=>{
    const cy=262+dy+i*17.5;
    const seg=mk('line',{x1:1233,x2:1246.7,y1:cy,y2:cy,stroke:legendLineColors[i],'stroke-width':i===0?1.7:1.15},g2);
    
    
    const dot=mk('circle',{cx:1239.85,cy:cy,r:1.8,fill:legendLineColors[i]},g2);
    
    
    const lab=txt(name,{x:1254,y:cy+3.3,'font-size':9.4,fill:'#111'},g2);
    
    
  });
});
</script>
</body>
</html>
